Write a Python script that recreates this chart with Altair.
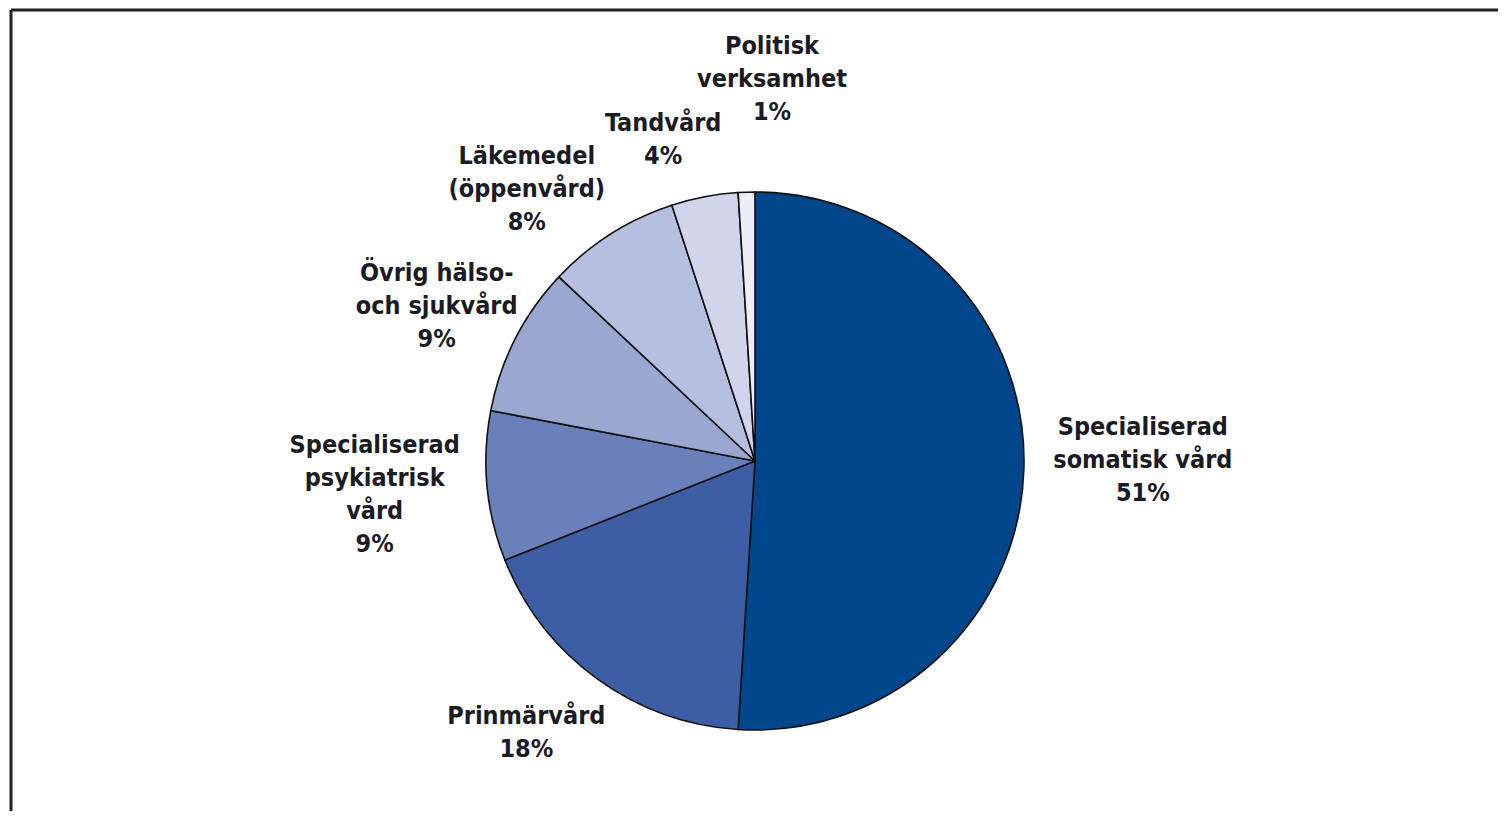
import altair as alt
import pandas as pd

# ---- data ----
categories = [
    "Specialiserad somatisk vård",
    "Prinmärvård",
    "Specialiserad psykiatrisk vård",
    "Övrig hälso- och sjukvård",
    "Läkemedel (öppenvård)",
    "Tandvård",
    "Politisk verksamhet",
]
values = [51, 18, 9, 9, 8, 4, 1]
label_lines = [
    ["Specialiserad", "somatisk vård"],
    ["Prinmärvård"],
    ["Specialiserad", "psykiatrisk", "vård"],
    ["Övrig hälso-", "och sjukvård"],
    ["Läkemedel", "(öppenvård)"],
    ["Tandvård"],
    ["Politisk", "verksamhet"],
]
colors = ["#00468b", "#3b5ea5", "#6a80ba", "#9aa7d1", "#b5bfe0", "#cfd5eb", "#eceef7"]

df = pd.DataFrame({
    "cat": categories,
    "value": values,
    "idx": list(range(len(categories))),
    "label": ["\n".join(l + [f"{v}%"]) for l, v in zip(label_lines, values)],
})

W, H = 1490, 800
CX, CY = 747, 450
R = 269
FONT = "DejaVu Sans Condensed"
LH = 33

base = alt.Chart(df)

theta = alt.Theta("value:Q", stack=True)
order = alt.Order("idx:Q", sort="ascending")

pie = base.mark_arc(outerRadius=R, stroke="#111111", strokeWidth=1.6).encode(
    theta=theta,
    order=order,
    color=alt.Color("cat:N", scale=alt.Scale(domain=categories, range=colors), legend=None),
    x=alt.value(CX),
    y=alt.value(CY),
)

# label placement (radius, dx, dy) per category -- styling only
placement = {
    categories[0]: (388, 0, -13),
    categories[1]: (355, -20, -16),
    categories[2]: (380, -2, -2),
    categories[3]: (355, -2, 6),
    categories[4]: (355, -38, 28),
    categories[5]: (330, -30, 3),
    categories[6]: (383, 29, 1),
}

labels = []
for cat, lines in zip(categories, label_lines):
    r, dx, dy = placement[cat]
    nlines = len(lines) + 1
    dy = dy - (nlines - 1) * LH / 2
    catq = cat.replace("'", "\\'")
    labels.append(
        base.transform_calculate(
            txt=f"datum.cat == '{catq}' ? datum.label : ''"
        ).mark_text(
            font=FONT, fontSize=25, fontWeight="bold", color="#1b1b24",
            align="center", baseline="middle", lineBreak="\n", lineHeight=LH,
            dx=dx, dy=dy,
        ).encode(
            theta=theta,
            order=order,
            radius=alt.value(r),
            text="txt:N",
            x=alt.value(CX),
            y=alt.value(CY),
        )
    )

frame_data = alt.Data(values=[{"a": 1}])
left_rule = alt.Chart(frame_data).mark_rule(color="#222222", strokeWidth=3).encode(
    x=alt.value(3), y=alt.value(-1), y2=alt.value(H)
)
top_rule = alt.Chart(frame_data).mark_rule(color="#222222", strokeWidth=3).encode(
    x=alt.value(3), x2=alt.value(W), y=alt.value(-1)
)

chart = alt.layer(pie, *labels, left_rule, top_rule).properties(
    width=W, height=H, padding=0
).configure_view(strokeWidth=0)

chart.save("out.html", embed_options={"renderer": "svg", "actions": False})
